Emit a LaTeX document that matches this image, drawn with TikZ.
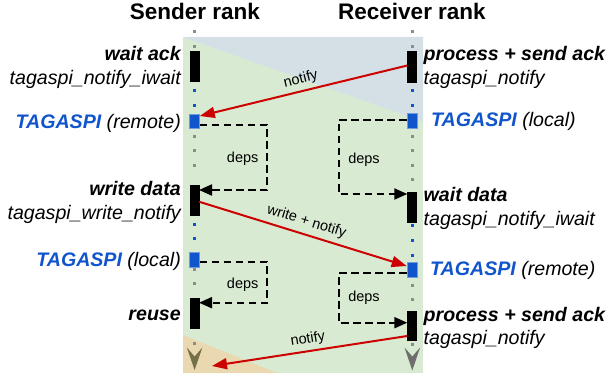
\documentclass[tikz,border=0pt]{standalone}
\usepackage{fontspec}
\setmainfont{Liberation Sans}
\usetikzlibrary{arrows.meta}
\definecolor{bgGreen}{HTML}{D9EAD3}
\definecolor{bgBlue}{HTML}{D4E0E6}
\definecolor{bgOrange}{HTML}{EAD9B0}
\definecolor{tagBlue}{HTML}{1155CC}
\definecolor{msgRed}{HTML}{CC0000}
\definecolor{dotGrey}{HTML}{8C8C8C}
\definecolor{chevGrey}{HTML}{6E6E6E}
\definecolor{chevOlive}{HTML}{767049}
\begin{document}
\begin{tikzpicture}[x=1pt,y=-1pt,
  bar/.style={fill=black, draw=black, minimum width=9pt, inner sep=0pt},
  tagbox/.style={fill=tagBlue, draw=tagBlue!60!white, line width=0.6pt, minimum width=10pt, minimum height=14pt, inner sep=0pt},
  lbl/.style={font=\fontsize{19.6}{22}\selectfont, inner sep=0pt},
  lleft/.style={lbl, anchor=base east},
  lright/.style={lbl, anchor=base west},
  ttl/.style={font=\fontsize{22.5}{26}\selectfont\bfseries, inner sep=0pt, anchor=base},
  small/.style={font=\fontsize{14.5}{16}\selectfont, inner sep=1pt},
  msg/.style={draw=msgRed, line width=2pt, -{Triangle[length=15pt,width=11pt]}},
  dep/.style={draw=black, line width=2pt, dash pattern=on 7.5pt off 4.5pt, -{Triangle[length=13pt,width=11pt]}},
  tag/.style={text=tagBlue, font=\bfseries\itshape}
]
\useasboundingbox (0,0) rectangle (608,377);
% background panel
\fill[bgGreen] (183,37) rectangle (423,373);
\fill[bgBlue] (183,37) -- (423,37) -- (423,121.5) -- cycle;
\fill[bgOrange] (183,335) -- (277,373) -- (183,373) -- cycle;

% lifeline dots
\foreach \y in {32,47,137,151,166,269.5,283.5,343}
  \fill[dotGrey] (192.8,\y-1.5) rectangle ++(3,3);
\foreach \y in {91,106,224,238.5}
  \fill[tagBlue] (192.8,\y-1.5) rectangle ++(3,3);
\foreach \y in {32,47,137,151,166,180,285,299,344}
  \fill[dotGrey] (410.5,\y-1.5) rectangle ++(3,3);
\foreach \y in {91,106,225,240,255}
  \fill[tagBlue] (410.5,\y-1.5) rectangle ++(3,3);

% chevrons
\fill[chevOlive] (186.8,347.5) -- (194.6,370) -- (202.4,347.5) -- (194.6,356.5) -- cycle;
\fill[chevGrey] (404.5,347.5) -- (412.3,370.5) -- (420.1,347.5) -- (412.3,356.5) -- cycle;

% titles
\node[ttl] (tS) at (195,20) {Sender rank};
\node[ttl] (tR) at (412,20) {Receiver rank};

% sender activities
\node[bar, minimum height=30pt] (Lack) at (194.3,66) {};
\node[tagbox] (LtagR) at (194.5,121) {};
\node[bar, minimum height=30pt] (Lwrite) at (194.3,200) {};
\node[tagbox, minimum height=15pt] (LtagL) at (194.5,259.5) {};
\node[bar, minimum height=30pt] (Lreuse) at (194.3,313) {};

% receiver activities
\node[bar, minimum height=31pt] (Rack1) at (412,66.5) {};
\node[tagbox, minimum height=15pt] (RtagL) at (412,120.5) {};
\node[bar, minimum height=30pt] (Rwait) at (412,207) {};
\node[tagbox, minimum height=15pt] (RtagR) at (412,269.5) {};
\node[bar, minimum height=29pt] (Rack2) at (412,325.5) {};

% left labels
\node[lleft, font=\fontsize{19.6}{22}\selectfont\bfseries\itshape] (l1) at (181,60.7) {wait ack};
\node[lleft, font=\fontsize{19.6}{22}\selectfont\itshape] (l2) at (181,84.3) {tagaspi\_notify\_iwait};
\node[lleft, font=\fontsize{19.6}{22}\selectfont\itshape] (l3) at (181,128.3) {{\color{tagBlue}\bfseries TAGASPI} (remote)};
\node[lleft, font=\fontsize{19.6}{22}\selectfont\bfseries\itshape] (l4) at (181,195.7) {write data};
\node[lleft, font=\fontsize{19.6}{22}\selectfont\itshape] (l5) at (181,219.3) {tagaspi\_write\_notify};
\node[lleft, font=\fontsize{19.6}{22}\selectfont\itshape] (l6) at (181,266.3) {{\color{tagBlue}\bfseries TAGASPI} (local)};
\node[lleft, font=\fontsize{19.6}{22}\selectfont\bfseries\itshape] (l7) at (181,320.7) {reuse};

% right labels
\node[lright, font=\fontsize{19.6}{22}\selectfont\bfseries\itshape] (r1) at (423.5,60.7) {process + send ack};
\node[lright, font=\fontsize{19.6}{22}\selectfont\itshape] (r2) at (423.5,84.3) {tagaspi\_notify};
\node[lright, font=\fontsize{19.6}{22}\selectfont\itshape] (r3) at (431,126.5) {{\color{tagBlue}\bfseries TAGASPI} (local)};
\node[lright, font=\fontsize{19.6}{22}\selectfont\bfseries\itshape] (r4) at (423.5,201.5) {wait data};
\node[lright, font=\fontsize{19.6}{22}\selectfont\itshape] (r5) at (423.5,225) {tagaspi\_notify\_iwait};
\node[lright, font=\fontsize{19.6}{22}\selectfont\itshape] (r6) at (430,275.5) {{\color{tagBlue}\bfseries TAGASPI} (remote)};
\node[lright, font=\fontsize{19.6}{22}\selectfont\bfseries\itshape] (r7) at (423.5,321) {process + send ack};
\node[lright, font=\fontsize{19.6}{22}\selectfont\itshape] (r8) at (423.5,344.5) {tagaspi\_notify};

% dependencies
\draw[dep] ([yshift=-4pt]LtagR.east) -- ++(67.5,0) |- ([yshift=10pt]Lwrite.east);
\draw[dep] ([yshift=0.5pt]RtagL.west) -- ++(-68,0) |- ([yshift=13pt]Rwait.west);
\draw[dep] ([yshift=-2pt]LtagL.east) -- ++(67.5,0) |- ([yshift=10.3pt]Lreuse.east);
\draw[dep] ([yshift=-3.8pt]RtagR.west) -- ++(-68,0) |- ([yshift=2.8pt]Rack2.west);
\node[small] (d1) at (242.7,158.5) {deps};
\node[small] (d2) at (364,160) {deps};
\node[small] (d3) at (242.7,284.5) {deps};
\node[small] (d4) at (364,297.5) {deps};

% messages
\coordinate (n3end) at (212,366);
\draw[msg] ([yshift=1pt]Rack1.west) -- node[small, sloped, above=3pt] (m1) {notify} ([yshift=5pt]LtagR.east);
\draw[msg] ([yshift=-1.7pt]Lwrite.east) -- node[small, sloped, above=4pt] (m2) {write + notify} ([yshift=3.5pt]RtagR.west);
\draw[msg] ([yshift=-10.5pt]Rack2.west) -- node[small, sloped, above=3pt] (m3) {notify} (n3end);
\end{tikzpicture}
\end{document}
